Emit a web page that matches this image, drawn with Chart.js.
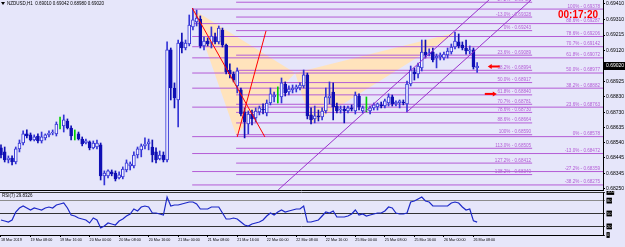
<!DOCTYPE html>
<html>
<head>
<meta charset="utf-8">
<script src="https://cdn.jsdelivr.net/npm/chart.js@4.4.1/dist/chart.umd.min.js"></script>
<style>
  html, body { margin: 0; padding: 0; background: #E6E6FA; }
  #wrap { position: relative; width: 625px; height: 247px; overflow: hidden; }
  #price { position: absolute; left: 0; top: 0; }
  #rsi { position: absolute; left: 0; top: 191px; }
</style>
</head>
<body>
<div id="wrap">
  <canvas id="price" width="625" height="191"></canvas>
  <canvas id="rsi" width="625" height="56"></canvas>
</div>
<script>
// NZDUSD H1, one bar per hour, index 0 = first visible bar
const symbol = 'NZDUSD,H1';
const opens = [0.68507,0.68482,0.68432,0.68444,0.68419,0.68501,0.68538,0.68595,0.68589,0.68557,
  0.68582,0.68551,0.68570,0.68589,0.68601,0.68595,0.68657,0.68645,0.68676,0.68632,
  0.68589,0.68595,0.68563,0.68538,0.68545,0.68507,0.68513,0.68526,0.68332,0.68332,
  0.68357,0.68350,0.68319,0.68325,0.68369,0.68394,0.68394,0.68463,0.68495,0.68520,
  0.68532,0.68513,0.68482,0.68438,0.68463,0.68432,0.69122,0.68883,0.68808,0.69172,
  0.69134,0.69159,0.69266,0.69297,0.69316,0.69147,0.69178,0.69165,0.69203,0.69172,
  0.69247,0.69153,0.68996,0.68971,0.68896,0.68871,0.68733,0.68657,0.68720,0.68695,
  0.68733,0.68751,0.68726,0.68789,0.68827,0.68833,0.68827,0.68908,0.68858,0.68871,
  0.68877,0.68883,0.68896,0.68965,0.68714,0.68689,0.68708,0.68701,0.68739,0.68821,
  0.68858,0.68770,0.68745,0.68751,0.68739,0.68758,0.68739,0.68833,0.68739,0.68758,
  0.68739,0.68758,0.68764,0.68777,0.68770,0.68789,0.68827,0.68783,0.68789,0.68795,
  0.68783,0.68908,0.68984,0.68971,0.69009,0.69109,0.69096,0.69109,0.69071,0.69078,
  0.69071,0.69090,0.69109,0.69140,0.69172,0.69153,0.69134,0.69115,0.69122,0.69010];
const highs = [0.68526,0.68513,0.68457,0.68457,0.68513,0.68557,0.68614,0.68620,0.68601,0.68589,
  0.68595,0.68607,0.68595,0.68614,0.68620,0.68670,0.68701,0.68714,0.68689,0.68645,
  0.68620,0.68607,0.68576,0.68563,0.68551,0.68551,0.68557,0.68538,0.68363,0.68369,
  0.68369,0.68363,0.68357,0.68388,0.68432,0.68419,0.68482,0.68513,0.68532,0.68570,
  0.68563,0.68557,0.68507,0.68488,0.68482,0.69172,0.69134,0.68915,0.69184,0.69228,
  0.69184,0.69341,0.69379,0.69372,0.69335,0.69203,0.69197,0.69266,0.69228,0.69272,
  0.69259,0.69159,0.69034,0.68984,0.69009,0.68883,0.68758,0.68739,0.68745,0.68758,
  0.68770,0.68783,0.68808,0.68883,0.68858,0.68890,0.68946,0.68921,0.68896,0.68902,
  0.68902,0.68915,0.68996,0.68977,0.68758,0.68770,0.68745,0.68758,0.68883,0.68921,
  0.68915,0.68789,0.68770,0.68770,0.68770,0.68777,0.68858,0.68846,0.68770,0.68827,
  0.68770,0.68789,0.68789,0.68795,0.68814,0.68846,0.68839,0.68802,0.68808,0.68808,
  0.68927,0.69021,0.69009,0.69040,0.69184,0.69184,0.69128,0.69134,0.69096,0.69103,
  0.69109,0.69134,0.69159,0.69234,0.69222,0.69172,0.69184,0.69147,0.69134,0.69042];
const lows = [0.68444,0.68419,0.68413,0.68400,0.68407,0.68482,0.68526,0.68570,0.68551,0.68551,
  0.68538,0.68538,0.68557,0.68576,0.68589,0.68582,0.68626,0.68607,0.68626,0.68557,
  0.68557,0.68557,0.68520,0.68532,0.68495,0.68501,0.68501,0.68306,0.68275,0.68319,
  0.68332,0.68300,0.68313,0.68313,0.68357,0.68369,0.68382,0.68444,0.68451,0.68501,
  0.68495,0.68419,0.68413,0.68432,0.68419,0.68419,0.68808,0.68758,0.68639,0.69103,
  0.69122,0.69147,0.69247,0.69272,0.69134,0.69122,0.69147,0.69134,0.69159,0.69159,
  0.69140,0.68971,0.68946,0.68921,0.68852,0.68708,0.68570,0.68595,0.68651,0.68670,
  0.68714,0.68720,0.68708,0.68777,0.68795,0.68789,0.68789,0.68833,0.68839,0.68852,
  0.68858,0.68871,0.68883,0.68689,0.68657,0.68664,0.68676,0.68683,0.68726,0.68783,
  0.68683,0.68726,0.68726,0.68664,0.68726,0.68739,0.68720,0.68745,0.68726,0.68733,
  0.68720,0.68745,0.68745,0.68758,0.68758,0.68770,0.68770,0.68770,0.68758,0.68777,
  0.68733,0.68896,0.68933,0.68946,0.68990,0.69071,0.69084,0.69046,0.69009,0.69059,
  0.69059,0.69071,0.69096,0.69128,0.69134,0.69122,0.69096,0.69096,0.69002,0.68980];
const closes = [0.68463,0.68432,0.68444,0.68419,0.68501,0.68538,0.68595,0.68582,0.68557,0.68576,
  0.68551,0.68576,0.68589,0.68601,0.68607,0.68657,0.68657,0.68683,0.68632,0.68582,
  0.68589,0.68563,0.68532,0.68551,0.68507,0.68538,0.68538,0.68332,0.68350,0.68363,
  0.68344,0.68313,0.68338,0.68375,0.68413,0.68407,0.68463,0.68501,0.68520,0.68532,
  0.68545,0.68463,0.68432,0.68463,0.68432,0.69122,0.68883,0.68821,0.69165,0.69134,
  0.69165,0.69278,0.69310,0.69322,0.69147,0.69178,0.69159,0.69209,0.69172,0.69259,
  0.69153,0.68984,0.68971,0.68933,0.68990,0.68720,0.68670,0.68720,0.68689,0.68739,
  0.68758,0.68745,0.68789,0.68846,0.68839,0.68833,0.68915,0.68852,0.68877,0.68883,
  0.68890,0.68902,0.68965,0.68708,0.68683,0.68708,0.68701,0.68739,0.68827,0.68833,
  0.68764,0.68739,0.68751,0.68739,0.68758,0.68751,0.68839,0.68764,0.68758,0.68758,
  0.68758,0.68777,0.68783,0.68770,0.68802,0.68827,0.68783,0.68795,0.68802,0.68789,
  0.68908,0.68996,0.68971,0.69021,0.69109,0.69090,0.69103,0.69059,0.69084,0.69090,
  0.69096,0.69115,0.69140,0.69178,0.69147,0.69134,0.69115,0.69122,0.69015,0.69020];
const rsiValues = [34.9,32.6,30.2,34.9,53.5,62.8,67.4,62.8,58.1,62.8,
  60.5,58.1,62.8,65.1,62.8,69.8,72.1,74.4,62.8,46.5,
  44.2,39.5,37.2,34.9,27.9,39.5,34.9,16.3,20.9,27.9,
  25.6,23.3,32.6,37.2,44.2,48.8,60.5,55.8,65.1,67.4,
  65.1,51.2,51.2,48.8,46.5,88.4,67.4,69.8,69.8,72.1,
  74.4,76.7,76.7,72.1,60.5,60.5,60.5,65.1,65.1,65.1,
  51.2,37.2,37.2,39.5,37.2,30.2,23.3,20.9,25.6,27.9,
  30.2,34.9,44.2,51.2,46.5,53.5,58.1,53.5,55.8,58.1,
  60.5,60.5,67.4,30.2,30.2,32.6,34.9,44.2,53.5,51.2,
  55.8,41.9,41.9,41.9,44.2,48.8,58.1,46.5,48.8,44.2,
  46.5,48.8,51.2,51.2,55.8,65.1,62.8,51.2,48.8,48.8,
  51.2,76.7,79.1,83.7,88.4,79.1,76.7,67.4,67.4,67.4,
  67.4,67.4,74.4,76.7,74.4,65.1,58.1,60.5,33.0,29.8326];
const rsiLevels = [0, 10, 20, 30, 50, 70, 80, 90, 100];

const timeTickBars = [0, 8, 16, 24, 32, 40, 48, 56, 64, 72, 80, 88, 96, 104, 112, 120, 128];
const timeTickLabels = ['18 Mar 2019', '19 Mar 08:00', '19 Mar 16:00', '20 Mar 00:00', '20 Mar 08:00',
  '20 Mar 16:00', '21 Mar 00:00', '21 Mar 08:00', '21 Mar 16:00', '22 Mar 00:00', '22 Mar 08:00',
  '22 Mar 16:00', '25 Mar 00:00', '25 Mar 08:00', '25 Mar 16:00', '26 Mar 00:00', '26 Mar 08:00'];
const priceTicks = [0.69410, 0.69310, 0.69215, 0.69120, 0.68925, 0.68830, 0.68730,
  0.68635, 0.68540, 0.68445, 0.68345, 0.68250];

// fibonacci objects: [fromBar, toBar], level names, level prices
const fibABars = [63.7, 143.9];
const fibALabels = ['-27.2%', '-13.0%', '0%', '23.6%', '38.2%', '50.0%', '61.8%', '70.7%', '78.6%',
  '88.6%', '100%', '113.0%', '127.2%', '138.2%'];
const fibAPrices = [0.69421, 0.69328, 0.69243, 0.69089, 0.68994, 0.68917, 0.68840, 0.68781, 0.68730,
  0.68664, 0.68590, 0.68505, 0.68412, 0.68340];
const fibBBars = [51.8, 163.1];
const fibBLabels = ['100%', '88.6%', '78.6%', '70.7%', '61.8%', '50.0%', '38.2%', '23.6%', '0%',
  '-13.0%', '-27.2%', '-38.2%'];
const fibBPrices = [0.69378, 0.69287, 0.69206, 0.69142, 0.69072, 0.68977, 0.68882, 0.68763, 0.68578,
  0.68472, 0.68359, 0.68275];

// harmonic pattern points X-A-B and B-C-D
const xabBars = [51.8, 63.7, 79.7];
const xabPrices = [0.69379, 0.68589, 0.68977];
const bcdBars = [79.7, 84.0, 123.8];
const bcdPrices = [0.68977, 0.68657, 0.69234];

// trend lines
const redLine1Bars = [51.8, 71.5];
const redLine1Prices = [0.69385, 0.68576];
const redLine2Bars = [64.0, 71.8];
const redLine2Prices = [0.68576, 0.69241];
const channelUpBars = [75.1, 132.2];
const channelUpPrices = [0.68244, 0.69435];
const channelLowBars = [110.0, 143.6];
const channelLowPrices = [0.68733, 0.69435];

// arrow marks
const arrowBars = [133.5, 132.7];
const arrowPrices = [0.69018, 0.68846];
const arrowDirs = [-1, 1];

const timerText = '00:17:20';

const xMin = -0.27;
const xMax = 163.1;
const priceMin = 0.68237;
const priceMax = 0.69435;

const bullColor = '#3434D6';
const bearColor = '#1010B4';
const dojiColor = '#00D000';
const fibColor = '#B45CD6';
const channelColor = '#9932CC';
const peach = '#FFE3BC';
const priceFont = { family: 'Liberation Sans', size: 5 };
const timeFont = { family: 'Liberation Sans', size: 3.7 };

const bars = opens.map((o, i) => i);
const isBear = i => closes[i] < opens[i];
const isDoji = i => closes[i] === opens[i];

function pts(bs, ps) {
    return bs.map((b, k) => ({ x: b, y: ps[k] }));
}

function lineSet(bs, ps, color, order) {
    return { type: 'line', data: pts(bs, ps), borderColor: color, borderWidth: 1, pointRadius: 0, tension: 0, fill: false, order: order };
}

const datasets = [];
datasets.push({ type: 'line', data: pts(xabBars, xabPrices), fill: 'shape', backgroundColor: peach, borderWidth: 0, borderColor: 'rgba(0,0,0,0)', pointRadius: 0, order: 20 });
datasets.push({ type: 'line', data: pts(bcdBars, bcdPrices), fill: 'shape', backgroundColor: peach, borderWidth: 0, borderColor: 'rgba(0,0,0,0)', pointRadius: 0, order: 20 });
fibAPrices.forEach(p => datasets.push(lineSet(fibABars, [p, p], fibColor, 15)));
fibBPrices.forEach(p => datasets.push(lineSet(fibBBars, [p, p], fibColor, 15)));
datasets.push({
    type: 'bar', data: bars.map(i => ({ x: i, y: [lows[i], highs[i]] })),
    backgroundColor: bars.map(i => isDoji(i) ? dojiColor : (isBear(i) ? bearColor : bullColor)),
    borderWidth: 0, barThickness: 1, maxBarThickness: 1, grouped: false, order: 10
});
datasets.push({
    type: 'bar', data: bars.map(i => ({ x: i, y: [opens[i], closes[i]] })),
    backgroundColor: bars.map(i => isDoji(i) ? dojiColor : (isBear(i) ? bearColor : '#F2F2FF')),
    borderColor: bars.map(i => isDoji(i) ? dojiColor : (isBear(i) ? bearColor : bullColor)),
    borderWidth: 1, borderSkipped: false, barThickness: 3, maxBarThickness: 3, grouped: false, order: 9
});
datasets.push(lineSet(redLine1Bars, redLine1Prices, '#FF0000', 2));
datasets.push(lineSet(redLine2Bars, redLine2Prices, '#FF0000', 2));
datasets.push(lineSet(channelUpBars, channelUpPrices, channelColor, 2));
datasets.push(lineSet(channelLowBars, channelLowPrices, channelColor, 2));

const mainOverlay = {
    id: 'mainOverlay',
    afterDraw(chart) {
        const { ctx, chartArea: a, scales: { x, y } } = chart;
        ctx.save();
        // fibo level captions
        ctx.font = '4.6px "Liberation Sans"';
        ctx.fillStyle = fibColor;
        ctx.textAlign = 'right';
        ctx.textBaseline = 'bottom';
        fibAPrices.forEach((p, k) => {
            ctx.fillText(fibALabels[k] + ' - ' + p.toFixed(5), x.getPixelForValue(fibABars[1]) - 1, y.getPixelForValue(p) - 0.5);
        });
        fibBPrices.forEach((p, k) => {
            ctx.fillText(fibBLabels[k] + ' - ' + p.toFixed(5), a.right - 3, y.getPixelForValue(p) - 0.5);
        });
        // red arrows
        ctx.strokeStyle = '#FF0000';
        ctx.fillStyle = '#FF0000';
        ctx.lineWidth = 2;
        arrowBars.forEach((b, k) => {
            const cx = x.getPixelForValue(b);
            const cy = y.getPixelForValue(arrowPrices[k]);
            const d = arrowDirs[k];
            const tip = cx + d * 6;
            ctx.beginPath();
            ctx.moveTo(cx - d * 6, cy);
            ctx.lineTo(tip - d * 3, cy);
            ctx.stroke();
            ctx.beginPath();
            ctx.moveTo(tip, cy);
            ctx.lineTo(tip - d * 4, cy - 2.5);
            ctx.lineTo(tip - d * 4, cy + 2.5);
            ctx.closePath();
            ctx.fill();
        });
        // timer
        ctx.font = 'bold 10px "Liberation Sans"';
        ctx.textAlign = 'right';
        ctx.textBaseline = 'alphabetic';
        ctx.fillText(timerText, a.right - 5, 18);
        // header
        const last = opens.length - 1;
        ctx.fillStyle = '#000';
        ctx.beginPath();
        ctx.moveTo(1, 2);
        ctx.lineTo(5, 2);
        ctx.lineTo(3, 5);
        ctx.closePath();
        ctx.fill();
        ctx.font = '4.5px "Liberation Sans"';
        ctx.textAlign = 'left';
        ctx.textBaseline = 'middle';
        ctx.fillText(symbol + '  ' + [opens[last], highs[last], lows[last], closes[last]].map(v => v.toFixed(5)).join(' '), 7, 4);
        // panel bottom border
        ctx.strokeStyle = '#000';
        ctx.lineWidth = 1;
        ctx.beginPath();
        ctx.moveTo(a.left, a.bottom - 0.5);
        ctx.lineTo(a.right, a.bottom - 0.5);
        ctx.stroke();
        // bid box on price scale
        const by = Math.round(y.getPixelForValue(closes[last]));
        ctx.fillStyle = '#000';
        ctx.fillRect(a.right + 1, by - 4, 625 - a.right - 1, 8);
        ctx.fillStyle = '#FFF';
        ctx.font = '5px "Liberation Sans"';
        ctx.fillText(closes[last].toFixed(5), a.right + 3, by);
        ctx.restore();
    }
};

new Chart(document.getElementById('price'), {
    type: 'line',
    data: { datasets: datasets },
    options: {
        responsive: false,
        animation: false,
        events: [],
        layout: { padding: 0 },
        plugins: { legend: { display: false }, tooltip: { enabled: false } },
        scales: {
            x: { type: 'linear', display: false, min: xMin, max: xMax, offset: false },
            y: {
                type: 'linear', position: 'right', min: priceMin, max: priceMax,
                afterBuildTicks: s => { s.ticks = priceTicks.map(v => ({ value: v })); },
                afterFit: s => { s.width = 22; s.paddingTop = 0; s.paddingBottom = 0; },
                ticks: { color: '#000', font: priceFont, padding: 1, crossAlign: 'near', callback: v => v.toFixed(5) },
                grid: { drawOnChartArea: false, tickLength: 2, color: '#000' },
                border: { display: true, color: '#000' }
            }
        }
    },
    plugins: [mainOverlay]
});

const rsiOverlay = {
    id: 'rsiOverlay',
    afterDraw(chart) {
        const { ctx, chartArea: a } = chart;
        ctx.save();
        ctx.fillStyle = '#000';
        ctx.font = '4.5px "Liberation Sans"';
        ctx.textBaseline = 'middle';
        ctx.fillText('RSI(7) ' + rsiValues[rsiValues.length - 1].toFixed(4), a.left + 2, a.top + 4);
        ctx.restore();
    }
};

new Chart(document.getElementById('rsi'), {
    type: 'line',
    data: {
        datasets: [{
            data: rsiValues.map((v, i) => ({ x: i, y: v })),
            borderColor: '#1C28C8', borderWidth: 1.2, pointRadius: 0, tension: 0, fill: false
        }]
    },
    options: {
        responsive: false,
        animation: false,
        events: [],
        layout: { padding: { top: 1, left: 0, right: 0, bottom: 0 } },
        plugins: { legend: { display: false }, tooltip: { enabled: false } },
        scales: {
            x: {
                type: 'linear', min: xMin, max: xMax, offset: false,
                afterBuildTicks: s => { s.ticks = timeTickBars.map(v => ({ value: v })); },
                afterFit: s => { s.height = 12; s.paddingLeft = 0; s.paddingRight = 0; },
                ticks: { autoSkip: false, maxRotation: 0, align: 'start', padding: 1, color: '#000', font: timeFont,
                    callback: (v, i) => timeTickLabels[i] },
                grid: { drawOnChartArea: false, tickLength: 2, color: '#000' },
                border: { display: true, color: '#000' }
            },
            y: {
                type: 'linear', position: 'right', min: 0, max: 100,
                afterBuildTicks: s => { s.ticks = rsiLevels.map(v => ({ value: v })); },
                afterFit: s => { s.width = 22; s.paddingTop = 0; s.paddingBottom = 0; },
                ticks: { color: '#DDD', font: { family: 'Liberation Sans', size: 4 }, padding: 2,
                    showLabelBackdrop: true, backdropColor: '#000', backdropPadding: 0.5 },
                grid: { drawOnChartArea: true, tickLength: 2,
                    color: c => (c.tick && (c.tick.value === 80 || c.tick.value === 70)) ? '#8C8C8C' : '#333' },
                border: { display: true, color: '#000' }
            }
        }
    },
    plugins: [rsiOverlay]
});
</script>
</body>
</html>
